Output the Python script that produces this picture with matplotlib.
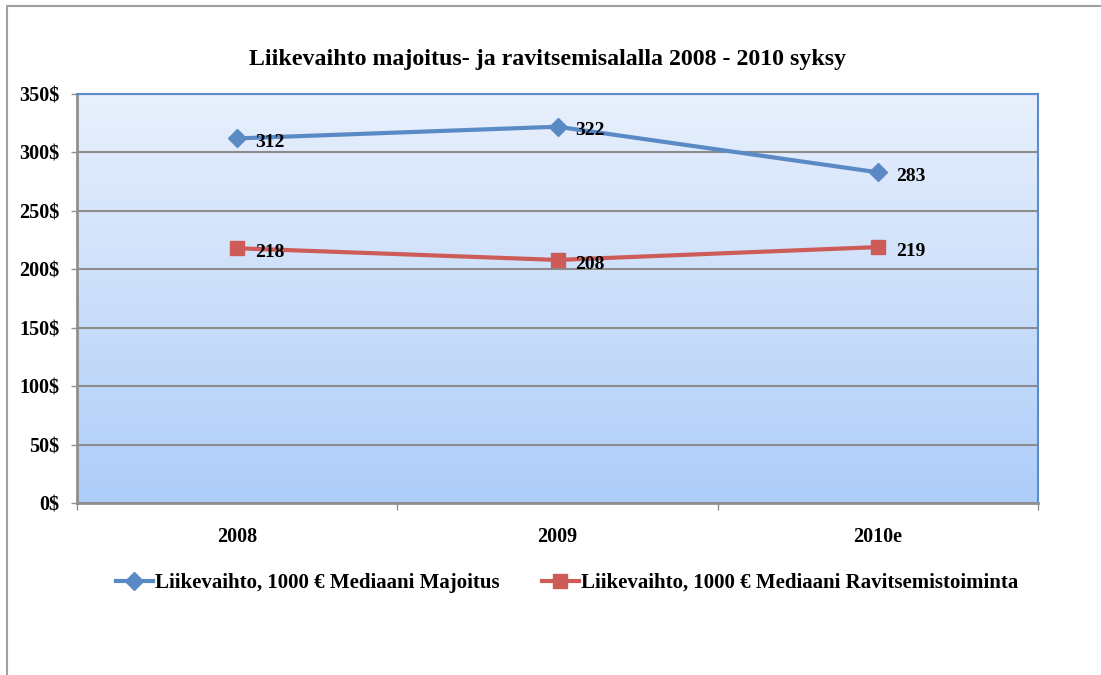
import numpy as np
import matplotlib
matplotlib.use('Agg')
import matplotlib.pyplot as plt
from matplotlib.colors import LinearSegmentedColormap
from matplotlib.patches import Rectangle

vuodet = ['2008', '2009', '2010e']
majoitus = [312, 322, 283]
ravitsemis = [218, 208, 219]
y_ticks = [0, 50, 100, 150, 200, 250, 300, 350]

plt.rcParams['font.family'] = ['Liberation Serif', 'DejaVu Serif']
plt.rcParams['font.weight'] = 'bold'

fig = plt.figure(figsize=(11.01, 6.75), dpi=100)
# ulkokehys
fig.patches.append(Rectangle((7 / 1101, -0.1), 1.2, 0.1 + (675 - 6) / 675,
                             transform=fig.transFigure, fill=False,
                             edgecolor='#a0a0a0', linewidth=1.5))

ax = fig.add_axes([77 / 1101, 1 - 503 / 675, (1038 - 77) / 1101, (503 - 94) / 675])

# liukuväritausta
cmap = LinearSegmentedColormap.from_list('bg', ['#e8f0fc', '#aecdf9'])
grad = np.linspace(0, 1, 256).reshape(-1, 1)
ax.imshow(grad, cmap=cmap, aspect='auto', extent=[0, 1, 0, 1],
          transform=ax.transAxes, zorder=0)

x = np.arange(len(vuodet))
ax.plot(x, majoitus, color='#5a8ac6', linewidth=3, marker='D', markersize=9,
        zorder=3, label='Liikevaihto, 1000 € Mediaani Majoitus')
ax.plot(x, ravitsemis, color='#cd5b57', linewidth=3, marker='s', markersize=10,
        zorder=3, label='Liikevaihto, 1000 € Mediaani Ravitsemistoiminta')

for xi, v in zip(x, majoitus):
    ax.annotate(str(v), (xi, v), xytext=(13, -3), textcoords='offset points',
                ha='left', va='center', fontsize=14, fontweight='bold', zorder=4)
for xi, v in zip(x, ravitsemis):
    ax.annotate(str(v), (xi, v), xytext=(13, -3), textcoords='offset points',
                ha='left', va='center', fontsize=14, fontweight='bold', zorder=4)

ax.set_xlim(-0.5, 2.5)
ax.set_ylim(0, 350)
ax.set_yticks(y_ticks)
ax.set_yticklabels([f'{t}$' for t in y_ticks], fontsize=14.5, fontweight='bold')
ax.set_xticks(x)
ax.set_xticklabels(vuodet, fontsize=14.5, fontweight='bold')
ax.set_xticks([-0.5, 0.5, 1.5, 2.5], minor=True)
ax.tick_params(axis='x', which='major', length=0, pad=17)
ax.tick_params(axis='x', which='minor', length=5, color='#909090', width=1)
ax.tick_params(axis='y', length=4.5, color='#909090', width=1, pad=8)

ax.grid(axis='y', color='#8c8c8c', linewidth=1.5, zorder=1)
ax.set_axisbelow(True)
for s in ['left', 'bottom']:
    ax.spines[s].set_color('#909090')
    ax.spines[s].set_linewidth(2)
for s in ['top', 'right']:
    ax.spines[s].set_color('#5b8ccb')
    ax.spines[s].set_linewidth(1.5)

fig.text(548 / 1101, 1 - 59 / 675, 'Liikevaihto majoitus- ja ravitsemisalalla 2008 - 2010 syksy',
         ha='center', va='center', fontsize=17.2, fontweight='bold')

fig.legend(loc='center', bbox_to_anchor=(567 / 1101, 1 - 583 / 675), ncol=2,
           frameon=False, handlelength=1.8, columnspacing=2.0,
           handletextpad=0.1, prop={'weight': 'bold', 'size': 15})

fig.savefig('out.png', dpi=100)
